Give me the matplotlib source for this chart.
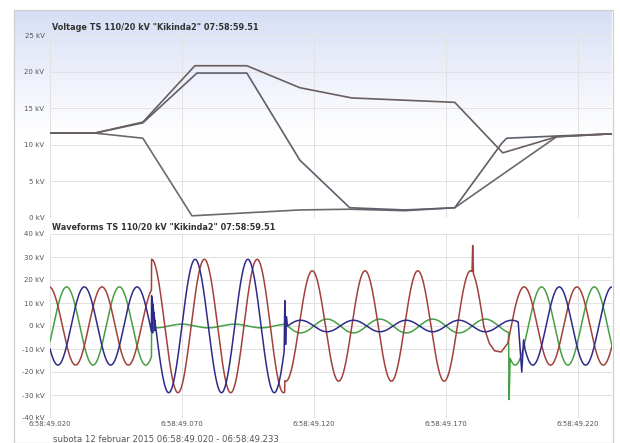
import numpy as np
import matplotlib
matplotlib.use("Agg")
from matplotlib import pyplot as plt
from matplotlib.patches import Rectangle

# time axis in ms from 06:58:49.020
tick_ms = [0, 50, 100, 150, 200]
tick_labels = ['6:58:49.020', '6:58:49.070', '6:58:49.120', '6:58:49.170', '6:58:49.220']
t_end = 213

# RMS voltages per phase (kV)
rms_a_t = [0, 17, 35.2, 54.9, 74.6, 94.7, 114.4, 153.4, 171.6, 192, 213]
rms_a_v = [11.6, 11.6, 13.1, 20.8, 20.8, 17.8, 16.4, 15.8, 8.9, 11.1, 11.5]
rms_b_t = [0, 17, 35.2, 55.7, 74.6, 94.7, 113.6, 134.5, 153.4, 171.2, 173.1, 192, 213]
rms_b_v = [11.6, 11.6, 13.0, 19.8, 19.8, 7.9, 1.4, 1.1, 1.4, 10.2, 10.9, 11.2, 11.5]
rms_c_t = [0, 17, 35.2, 53.8, 94.7, 113.6, 134.5, 153.4, 192, 213]
rms_c_v = [11.6, 11.6, 10.9, 0.3, 1.1, 1.2, 1.0, 1.4, 11.1, 11.5]

# waveform segments: (start ms, end ms, peak kV, time of peak mod 20 ms)
red_segs = [(0, 38.5, 17, 19.7), (38.5, 89, 29, 18.5), (89, 160.0, 24, 19.4),
            (160.5, 164.5, 24, 19.4), (176, t_end, 17, 19.7)]
green_segs = [(0, 38.5, 17, 6.3), (38.5, 89, 0.8, 10), (89, 173.8, 3, 5),
              (174.4, t_end, 17, 6.3)]
blue_segs = [(0, 38.5, 17, 13), (38.5, 88.8, 29, 15), (90, 177.5, 2.5, 15),
             (180, t_end, 17, 13)]

# transients between segments (ms, kV)
red_spike_t = [160.2, 166.5, 168.5, 171, 173.5]
red_spike_v = [35, -7.5, -10.8, -11.3, -7.5]
green_spike_t = [174.0]
green_spike_v = [-32]
blue_spike_t = [38.9, 39.3, 39.7, 89.0, 89.3, 89.6, 178.8, 179.5]
blue_spike_v = [-3, 3, -2, 11, -8, 4, -20, -6]

red_col = '#a2403a'
green_col = '#45a045'
blue_col = '#2e2a88'
grey_txt = '#555555'


def build(segs, ex_t, ex_v):
    ts, vs = [], []
    for t0, t1, amp, pk in segs:
        t = np.arange(t0, t1, 0.05)
        ts.append(t)
        vs.append(amp * np.cos(2 * np.pi * (t - pk) / 20.0))
    ts.append(np.array(ex_t, float))
    vs.append(np.array(ex_v, float))
    t = np.concatenate(ts)
    v = np.concatenate(vs)
    order = np.argsort(t, kind='stable')
    return t[order], v[order]


W, H = 620, 443
fig = plt.figure(figsize=(W / 100, H / 100), dpi=100)


def fx(px):
    return px / W


def fy(py):
    return 1 - py / H


# gradient behind the upper panel
bg = fig.add_axes([fx(14), fy(224), fx(612) - fx(14), fy(10) - fy(224)], zorder=0)
g = np.clip(1 - np.linspace(0, 1, 200) / 0.6, 0, 1) ** 1.2
top = np.array([0.84, 0.87, 0.96])
img = 1 - (1 - top)[None, None, :] * g[:, None, None]
bg.imshow(np.repeat(img, 2, axis=1), aspect='auto', extent=[0, 1, 0, 1])
bg.set_axis_off()

fig.add_artist(Rectangle((fx(14), 0), fx(613) - fx(14), fy(10), transform=fig.transFigure,
                         fill=False, edgecolor='#cfcfcf', lw=0.9))

ax1 = fig.add_axes([fx(50), fy(218), fx(612) - fx(50), fy(35) - fy(218)], zorder=2)
ax2 = fig.add_axes([fx(50), fy(418), fx(612) - fx(50), fy(234) - fy(418)], zorder=2)

for ax in (ax1, ax2):
    ax.set_facecolor('none')
    ax.set_xlim(0, t_end)
    ax.set_xticks(tick_ms)
    ax.grid(True, color='#e2e2e2', lw=0.7)
    ax.set_axisbelow(True)
    for s in ax.spines.values():
        s.set_visible(False)
    ax.tick_params(length=0, labelsize=5, labelcolor=grey_txt, pad=4)

ax1.set_ylim(0, 25)
ax1.set_yticks([0, 5, 10, 15, 20, 25])
ax1.set_yticklabels([f'{v} kV' for v in [0, 5, 10, 15, 20, 25]])
ax1.set_xticklabels([])
ax1.plot(rms_c_t, rms_c_v, color='#6a6a6a', lw=1.2)
ax1.plot(rms_b_t, rms_b_v, color='#5e5e6c', lw=1.2)
ax1.plot(rms_a_t, rms_a_v, color='#6a5e5e', lw=1.2)

ax2.set_ylim(-40, 40)
ax2.set_yticks(range(-40, 41, 10))
ax2.set_yticklabels([f'{v} kV' for v in range(-40, 41, 10)])
ax2.set_xticklabels(tick_labels)
ax2.tick_params(axis='x', pad=2)

gt, gv = build(green_segs, green_spike_t, green_spike_v)
bt, bv = build(blue_segs, blue_spike_t, blue_spike_v)
rt, rv = build(red_segs, red_spike_t, red_spike_v)
ax2.plot(gt, gv, color=green_col, lw=1.1)
ax2.plot(rt, rv, color=red_col, lw=1.1)
ax2.plot(bt, bv, color=blue_col, lw=1.1)

fig.text(fx(52), fy(28), 'Voltage TS 110/20 kV "Kikinda2" 07:58:59.51',
         fontsize=5.9, fontweight='bold', color='#333333', va='center')
fig.text(fx(52), fy(227), 'Waveforms TS 110/20 kV "Kikinda2" 07:58:59.51',
         fontsize=5.9, fontweight='bold', color='#333333', va='center')
fig.text(fx(53), fy(440), 'subota 12 februar 2015 06:58:49.020 - 06:58:49.233',
         fontsize=6.1, color=grey_txt, va='center')

fig.savefig('out.png', dpi=100)
